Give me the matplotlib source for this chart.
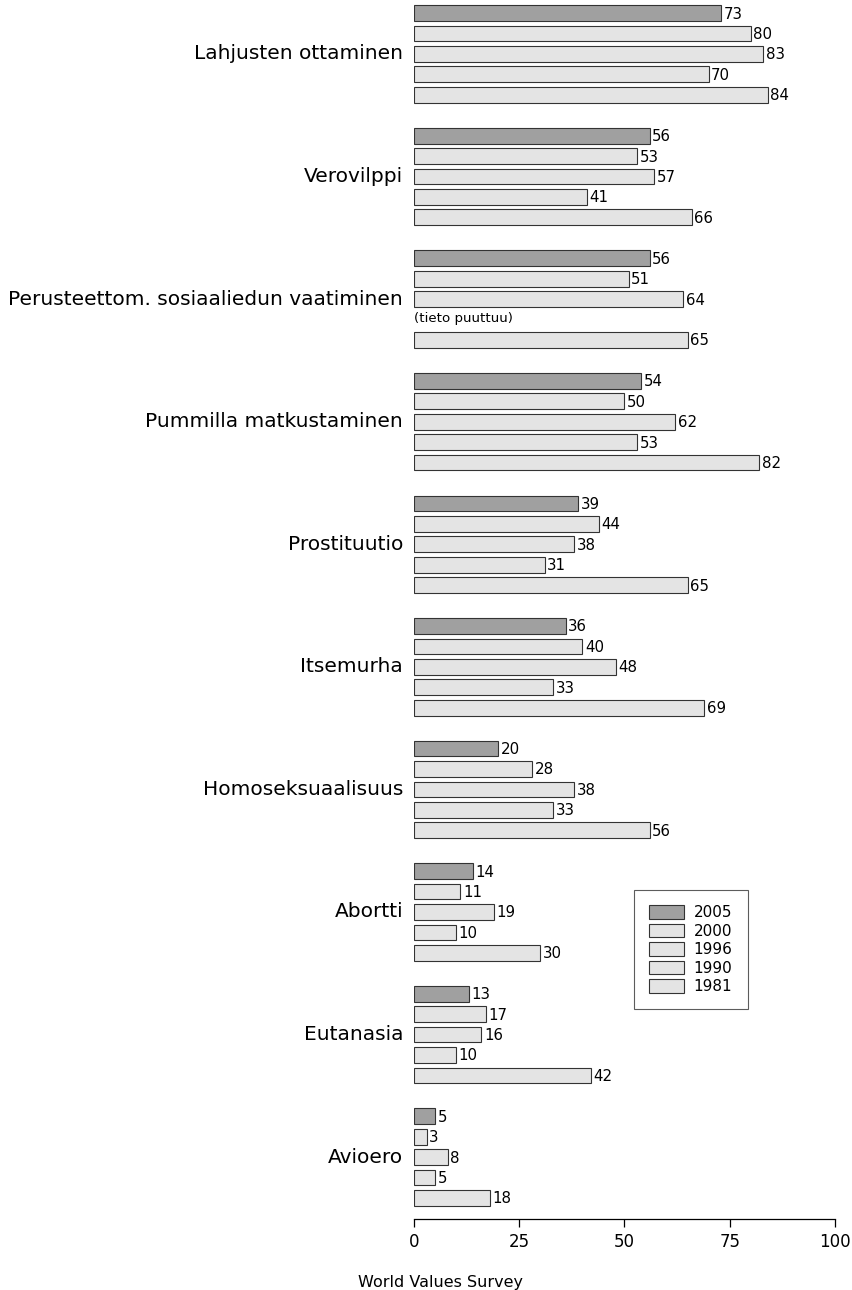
import matplotlib
matplotlib.use("Agg")
import matplotlib.pyplot as plt
from matplotlib.patches import Patch

plt.rcParams['font.family'] = ['DejaVu Sans']

categories = ["Lahjusten ottaminen", "Verovilppi", "Perusteettom. sosiaaliedun vaatiminen",
              "Pummilla matkustaminen", "Prostituutio", "Itsemurha", "Homoseksuaalisuus",
              "Abortti", "Eutanasia", "Avioero"]
years = ["2005", "2000", "1996", "1990", "1981"]
v2005 = [73, 56, 56, 54, 39, 36, 20, 14, 13, 5]
v2000 = [80, 53, 51, 50, 44, 40, 28, 11, 17, 3]
v1996 = [83, 57, 64, 62, 38, 48, 38, 19, 16, 8]
v1990 = [70, 41, None, 53, 31, 33, 33, 10, 10, 5]
v1981 = [84, 66, 65, 82, 65, 69, 56, 30, 42, 18]
series = [v2005, v2000, v1996, v1990, v1981]
colors = ["#a0a0a0", "#e4e4e4", "#e4e4e4", "#e4e4e4", "#e4e4e4"]
missing_text = "(tieto puuttuu)"
source = "World Values Survey"

fig = plt.figure(figsize=(8.53, 12.90), dpi=100)
ax = fig.add_axes([414/853, 1 - 1219/1290, (835-414)/853, 1219/1290])

for g, cat in enumerate(categories):
    for j, (vals, col) in enumerate(zip(series, colors)):
        y = -(g * 6 + j)
        v = vals[g]
        if v is None:
            ax.text(0, y + 0.05, missing_text, ha="left", va="center", fontsize=9.6)
            continue
        ax.barh(y, v, height=0.77, color=col, edgecolor="#333333", linewidth=0.8)
        ax.text(v + 0.6, y - 0.05, str(v), ha="left", va="center", fontsize=10.8)
    ax.text(-2.6, -(g * 6 + 2), cat, ha="right", va="center", fontsize=14.5, clip_on=False)

ax.set_xlim(0, 100)
ax.set_ylim(-59.03, 0.64)
for s in ["top", "right", "left"]:
    ax.spines[s].set_visible(False)
ax.spines["bottom"].set_bounds(0, 100)
ax.spines["bottom"].set_linewidth(0.9)
ax.set_yticks([])
ax.set_xticks([0, 25, 50, 75, 100])
ax.tick_params(axis="x", length=6, width=0.9, labelsize=12, pad=4)

handles = [Patch(facecolor=c, edgecolor="#333333", linewidth=0.8) for c in colors]
leg = ax.legend(handles, years, loc="upper left", bbox_to_anchor=((634-414)/421, 1 - 890/1219),
                fontsize=11, frameon=True, fancybox=False, edgecolor="#333333",
                handlelength=2.3, handleheight=1.0, handletextpad=0.6, labelspacing=0.22,
                borderpad=1.0, borderaxespad=0)
leg.get_frame().set_linewidth(0.8)

fig.text(441/853, 1 - 1282/1290, source, ha="center", va="center", fontsize=11.5)

fig.savefig("out.png", dpi=100)
